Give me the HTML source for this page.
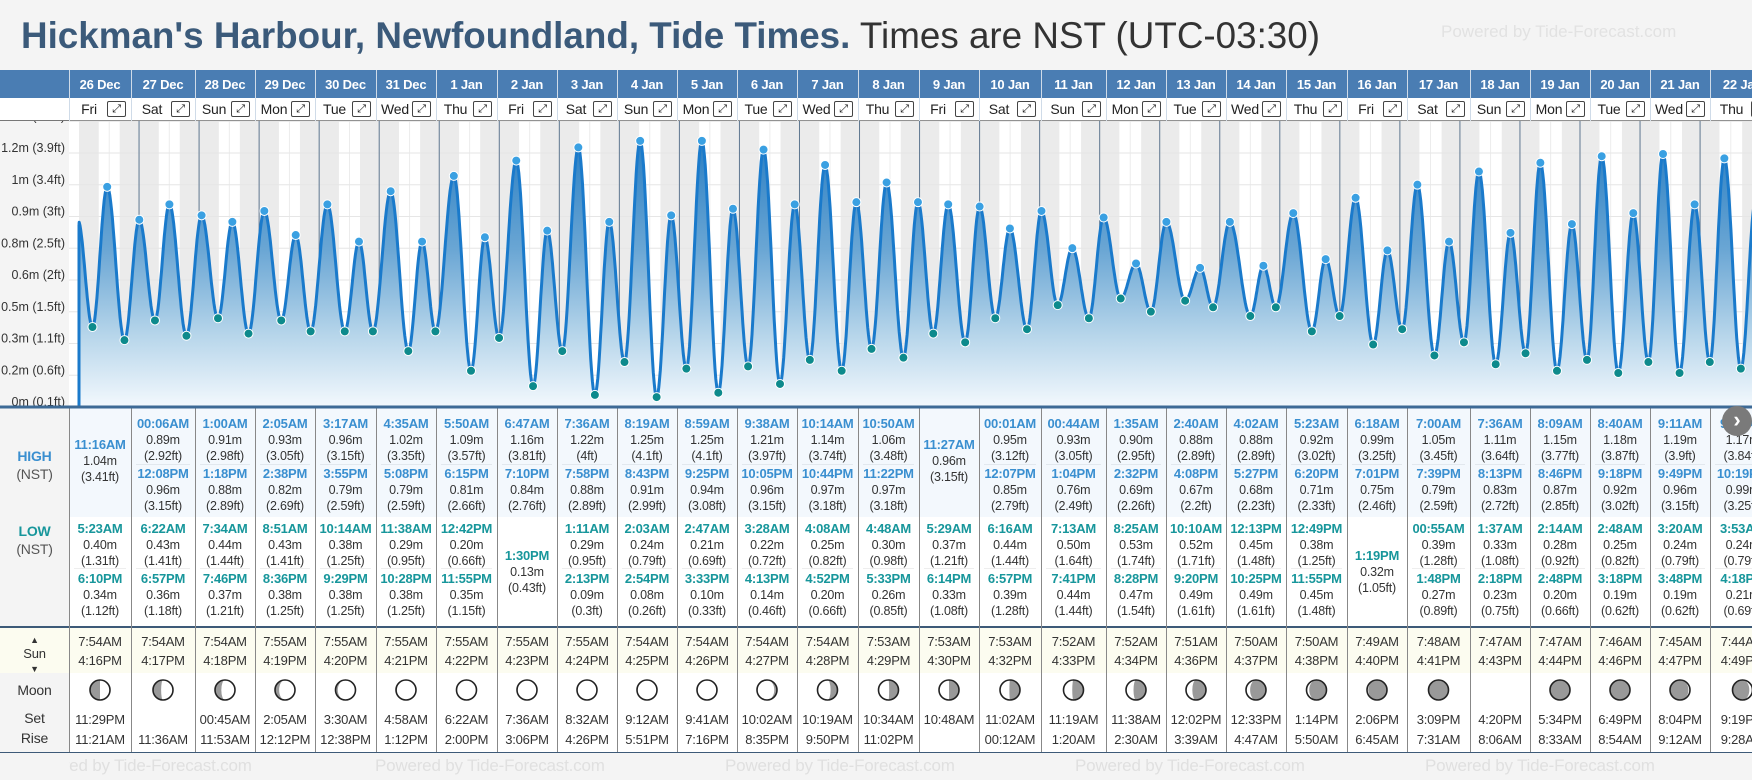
<!DOCTYPE html>
<html><head><meta charset="utf-8">
<style>
*{box-sizing:border-box;margin:0;padding:0}
body{width:1752px;height:780px;overflow:hidden;background:#f4f4f4;font-family:"Liberation Sans",sans-serif;position:relative;color:#333}
.abs{position:absolute}
.c{position:absolute;text-align:center;white-space:nowrap;font-size:12.5px;letter-spacing:-0.2px;line-height:16px}
.th{color:#3a8fd0;font-weight:bold;font-size:13px}
.tl{color:#17969b;font-weight:bold;font-size:13px}
</style></head><body>
<div class="abs" style="left:21px;top:14px;font-size:36.8px;line-height:44px;white-space:nowrap"><b style="color:#3b5a7a">Hickman's Harbour, Newfoundland, Tide Times.</b><span style="color:#333"> Times are NST (UTC-03:30)</span></div>
<div class="abs" style="left:1441px;top:22px;font-size:17px;color:#e2e2e2;white-space:nowrap">Powered by Tide-Forecast.com</div>
<div class="abs" style="left:0;top:70px;width:1752px;height:28px;background:#4a7db3"></div>
<div class="abs" style="left:0;top:98px;width:1752px;height:23px;background:#fff;border-bottom:1px solid #777"></div>
<div id="tbl"></div>
<svg class="abs" id="chart" style="left:0;top:0;z-index:1;pointer-events:none" width="1752" height="780"></svg>
<script>
const days=['26 Dec','27 Dec','28 Dec','29 Dec','30 Dec','31 Dec','1 Jan','2 Jan','3 Jan','4 Jan','5 Jan','6 Jan','7 Jan','8 Jan','9 Jan','10 Jan','11 Jan','12 Jan','13 Jan','14 Jan','15 Jan','16 Jan','17 Jan','18 Jan','19 Jan','20 Jan','21 Jan','22 Jan'];
const weekdays=['Fri','Sat','Sun','Mon','Tue','Wed','Thu','Fri','Sat','Sun','Mon','Tue','Wed','Thu','Fri','Sat','Sun','Mon','Tue','Wed','Thu','Fri','Sat','Sun','Mon','Tue','Wed','Thu'];
const highs=[
[['11:16AM',1.04,'3.41']],
[['00:06AM',0.89,'2.92'],['12:08PM',0.96,'3.15']],
[['1:00AM',0.91,'2.98'],['1:18PM',0.88,'2.89']],
[['2:05AM',0.93,'3.05'],['2:38PM',0.82,'2.69']],
[['3:17AM',0.96,'3.15'],['3:55PM',0.79,'2.59']],
[['4:35AM',1.02,'3.35'],['5:08PM',0.79,'2.59']],
[['5:50AM',1.09,'3.57'],['6:15PM',0.81,'2.66']],
[['6:47AM',1.16,'3.81'],['7:10PM',0.84,'2.76']],
[['7:36AM',1.22,'4'],['7:58PM',0.88,'2.89']],
[['8:19AM',1.25,'4.1'],['8:43PM',0.91,'2.99']],
[['8:59AM',1.25,'4.1'],['9:25PM',0.94,'3.08']],
[['9:38AM',1.21,'3.97'],['10:05PM',0.96,'3.15']],
[['10:14AM',1.14,'3.74'],['10:44PM',0.97,'3.18']],
[['10:50AM',1.06,'3.48'],['11:22PM',0.97,'3.18']],
[['11:27AM',0.96,'3.15']],
[['00:01AM',0.95,'3.12'],['12:07PM',0.85,'2.79']],
[['00:44AM',0.93,'3.05'],['1:04PM',0.76,'2.49']],
[['1:35AM',0.90,'2.95'],['2:32PM',0.69,'2.26']],
[['2:40AM',0.88,'2.89'],['4:08PM',0.67,'2.2']],
[['4:02AM',0.88,'2.89'],['5:27PM',0.68,'2.23']],
[['5:23AM',0.92,'3.02'],['6:20PM',0.71,'2.33']],
[['6:18AM',0.99,'3.25'],['7:01PM',0.75,'2.46']],
[['7:00AM',1.05,'3.45'],['7:39PM',0.79,'2.59']],
[['7:36AM',1.11,'3.64'],['8:13PM',0.83,'2.72']],
[['8:09AM',1.15,'3.77'],['8:46PM',0.87,'2.85']],
[['8:40AM',1.18,'3.87'],['9:18PM',0.92,'3.02']],
[['9:11AM',1.19,'3.9'],['9:49PM',0.96,'3.15']],
[['9:42AM',1.17,'3.84'],['10:19PM',0.99,'3.25']]];
const lows=[
[['5:23AM',0.40,'1.31'],['6:10PM',0.34,'1.12']],
[['6:22AM',0.43,'1.41'],['6:57PM',0.36,'1.18']],
[['7:34AM',0.44,'1.44'],['7:46PM',0.37,'1.21']],
[['8:51AM',0.43,'1.41'],['8:36PM',0.38,'1.25']],
[['10:14AM',0.38,'1.25'],['9:29PM',0.38,'1.25']],
[['11:38AM',0.29,'0.95'],['10:28PM',0.38,'1.25']],
[['12:42PM',0.20,'0.66'],['11:55PM',0.35,'1.15']],
[['1:30PM',0.13,'0.43']],
[['1:11AM',0.29,'0.95'],['2:13PM',0.09,'0.3']],
[['2:03AM',0.24,'0.79'],['2:54PM',0.08,'0.26']],
[['2:47AM',0.21,'0.69'],['3:33PM',0.10,'0.33']],
[['3:28AM',0.22,'0.72'],['4:13PM',0.14,'0.46']],
[['4:08AM',0.25,'0.82'],['4:52PM',0.20,'0.66']],
[['4:48AM',0.30,'0.98'],['5:33PM',0.26,'0.85']],
[['5:29AM',0.37,'1.21'],['6:14PM',0.33,'1.08']],
[['6:16AM',0.44,'1.44'],['6:57PM',0.39,'1.28']],
[['7:13AM',0.50,'1.64'],['7:41PM',0.44,'1.44']],
[['8:25AM',0.53,'1.74'],['8:28PM',0.47,'1.54']],
[['10:10AM',0.52,'1.71'],['9:20PM',0.49,'1.61']],
[['12:13PM',0.45,'1.48'],['10:25PM',0.49,'1.61']],
[['12:49PM',0.38,'1.25'],['11:55PM',0.45,'1.48']],
[['1:19PM',0.32,'1.05']],
[['00:55AM',0.39,'1.28'],['1:48PM',0.27,'0.89']],
[['1:37AM',0.33,'1.08'],['2:18PM',0.23,'0.75']],
[['2:14AM',0.28,'0.92'],['2:48PM',0.20,'0.66']],
[['2:48AM',0.25,'0.82'],['3:18PM',0.19,'0.62']],
[['3:20AM',0.24,'0.79'],['3:48PM',0.19,'0.62']],
[['3:53AM',0.24,'0.79'],['4:18PM',0.21,'0.69']]];
const sunrise=['7:54AM','7:54AM','7:54AM','7:55AM','7:55AM','7:55AM','7:55AM','7:55AM','7:55AM','7:54AM','7:54AM','7:54AM','7:54AM','7:53AM','7:53AM','7:53AM','7:52AM','7:52AM','7:51AM','7:50AM','7:50AM','7:49AM','7:48AM','7:47AM','7:47AM','7:46AM','7:45AM','7:44AM'];
const sunset=['4:16PM','4:17PM','4:18PM','4:19PM','4:20PM','4:21PM','4:22PM','4:23PM','4:24PM','4:25PM','4:26PM','4:27PM','4:28PM','4:29PM','4:30PM','4:32PM','4:33PM','4:34PM','4:36PM','4:37PM','4:38PM','4:40PM','4:41PM','4:43PM','4:44PM','4:46PM','4:47PM','4:49PM'];
const moonA=['11:29PM','','00:45AM','2:05AM','3:30AM','4:58AM','6:22AM','7:36AM','8:32AM','9:12AM','9:41AM','10:02AM','10:19AM','10:34AM','10:48AM','11:02AM','11:19AM','11:38AM','12:02PM','12:33PM','1:14PM','2:06PM','3:09PM','4:20PM','5:34PM','6:49PM','8:04PM','9:19PM'];
const moonB=['11:21AM','11:36AM','11:53AM','12:12PM','12:38PM','1:12PM','2:00PM','3:06PM','4:26PM','5:51PM','7:16PM','8:35PM','9:50PM','11:02PM','','00:12AM','1:20AM','2:30AM','3:39AM','4:47AM','5:50AM','6:45AM','7:31AM','8:06AM','8:33AM','8:54AM','9:12AM','9:28AM'];
const moonPhase=[0.25,0.28,0.31,0.35,0.39,0.43,0.46,0.49,0.50,0.53,0.56,0.62,0.70,0.74,0.75,0.76,0.77,0.79,0.81,0.85,0.88,0.92,0.97,null,0.03,0.06,0.09,0.13];
const axisM=['0m','0.2m','0.3m','0.5m','0.6m','0.8m','0.9m','1m','1.2m','1.3m'];
const axisFt=['0.1ft','0.6ft','1.1ft','1.5ft','2ft','2.5ft','3ft','3.4ft','3.9ft','4.4ft'];
</script>
<script>
const NS='http://www.w3.org/2000/svg';
const svg=document.getElementById('chart');
const colB=[69,131,195,255,315,376,436,497,557,617,677,737,797,858,919,979,1041,1106,1166,1226,1286,1347,1407,1470,1530,1590,1650,1710,1775];
const CT=121,CB=406;
function xT(d){return 79+d*60.04;}
function yH(h){return 154+(1.19-h)*219;}
function tm(s){const m=s.match(/(\d+):(\d+)(AM|PM)/);let h=+m[1]%12;if(m[3]=='PM')h+=12;return (h+(+m[2])/60)/24;}
function el(tag,attrs,parent){const e=document.createElementNS(NS,tag);for(const k in attrs)e.setAttribute(k,attrs[k]);(parent||svg).appendChild(e);return e;}
const defs=el('defs',{});
const cl=el('clipPath',{id:'lc'},defs);el('rect',{x:0,y:CT,width:69,height:CB-CT},cl);
let bg=el('rect',{x:69,y:CT,width:1683,height:CB-CT,fill:'#fff'});


for(let d=0;d<days.length;d++){
  const x0=xT(d),x1=xT(d+1),sr=xT(d+tm(sunrise[d])),ss=xT(d+tm(sunset[d]));
  let n1=el('rect',{x:x0,y:CT,width:sr-x0,height:CB-CT,fill:'#ebebeb'});
  
  
  let n2=el('rect',{x:ss,y:CT,width:x1-ss,height:CB-CT,fill:'#ebebeb'});
  
  
  el('line',{x1:(sr+ss)/2,x2:(sr+ss)/2,y1:CT,y2:CB,stroke:'#ececec','stroke-width':1});
}
for(let i=0;i<axisM.length;i++){
  const y=407-i*31.75;
  el('line',{x1:69,x2:1752,y1:y,y2:y,stroke:'#e6e6e6','stroke-width':1});
  let t=el('text',{x:65,y:y-1,'text-anchor':'end','font-size':12.5,fill:'#333','font-family':'Liberation Sans, sans-serif','clip-path':'url(#lc)'});
  t.textContent=axisM[i]+' ('+axisFt[i]+')';
  
  
}
for(let d=1;d<days.length;d++){
  let l=el('line',{x1:xT(d),x2:xT(d),y1:CT,y2:CB,stroke:'#5f7790','stroke-width':1});
  
  
}
let ev=[{t:-1+tm('11:30PM'),h:0.89,k:'H',hide:1}];
for(let d=0;d<days.length;d++){
  highs[d].forEach(e=>ev.push({t:d+tm(e[0]),h:e[1],k:'H'}));
  lows[d].forEach(e=>ev.push({t:d+tm(e[0]),h:e[1],k:'L'}));
}
ev.sort((a,b)=>a.t-b.t);
let pts=[];
for(let i=0;i<ev.length-1;i++){
  const a=ev[i],b=ev[i+1];
  for(let s=0;s<20;s++){
    const f=s/20,t=a.t+(b.t-a.t)*f;
    if(t<0)continue;
    const h=a.h+(b.h-a.h)*(1-Math.cos(Math.PI*f))/2;
    pts.push([xT(t),yH(h)]);
  }
}
const last=ev[ev.length-1];pts.push([xT(last.t),yH(last.h)]);
pts.unshift([xT(0),yH(0.87)]);
const g=el('linearGradient',{id:'fg',x1:0,y1:CT,x2:0,y2:CB,gradientUnits:'userSpaceOnUse'},defs);
el('stop',{offset:0,'stop-color':'#1f78c0'},g);
el('stop',{offset:0.45,'stop-color':'#6aa6d4'},g);
el('stop',{offset:0.75,'stop-color':'#b6d5ea'},g);
el('stop',{offset:1,'stop-color':'#f2f8fd'},g);
const cp=el('clipPath',{id:'cp'},defs);el('rect',{x:69,y:CT,width:1683,height:CB-CT},cp);
let dline=pts.map((p,i)=>(i?'L':'M')+p[0].toFixed(1)+','+p[1].toFixed(1)).join('');
let area=el('path',{d:dline+'L'+pts[pts.length-1][0]+','+CB+'L'+xT(0)+','+CB+'Z',fill:'url(#fg)','clip-path':'url(#cp)'});


let line=el('path',{d:dline,fill:'none',stroke:'#1a7acb','stroke-width':3,'clip-path':'url(#cp)','stroke-linejoin':'round'});


el('line',{x1:xT(0),x2:xT(0),y1:yH(0.87),y2:CB,stroke:'#1a7acb','stroke-width':3});
ev.forEach(e=>{if(e.hide||xT(e.t)>1752)return;
  let c=el('circle',{cx:xT(e.t),cy:yH(e.h),r:4.5,fill:e.k=='H'?'#3aa0e2':'#0d8a8c',stroke:'#fff','stroke-width':1});
  
  
});
el('line',{x1:0,x2:1752,y1:CB+1,y2:CB+1,stroke:'#3d6a96','stroke-width':3});
const T=document.getElementById('tbl');
function div(css,html,name,inter){const d=document.createElement('div');d.className='c';d.style.cssText=css;d.innerHTML=html;T.appendChild(d);return d;}
div('left:0;top:408px;width:1752px;height:109px;background:#f3f8fd','','high-row','false');
div('left:0;top:517px;width:1752px;height:109px;background:#fff','','low-row','false');
div('left:0;top:626px;width:1752px;height:2px;background:#3d5a78','','row-separator','false');
div('left:0;top:628px;width:1752px;height:45px;background:#fcfcf0','','sun-row','false');
div('left:0;top:673px;width:1752px;height:79px;background:#fff','','moon-row','false');
div('left:0;top:752px;width:1752px;height:1px;background:#3d5a78','','table-bottom','false');
div('left:0;top:408px;width:69px;height:218px;background:#f4f4f4','','label-col','false');
div('left:0;top:673px;width:69px;height:79px;background:#f4f4f4','','label-col-moon','false');
div('left:0;top:447px;width:69px;font-size:14px;line-height:18px','<b style="color:#3a8fd0">HIGH</b><br><span style="color:#555">(NST)</span>','high-label','false');
div('left:0;top:522px;width:69px;font-size:14px;line-height:18px','<b style="color:#17969b">LOW</b><br><span style="color:#555">(NST)</span>','low-label','false');
div('left:0;top:632px;width:69px;font-size:13px;line-height:14px','<span style="font-size:9px">▲</span><br>Sun<br><span style="font-size:9px">▼</span>','sun-label','false');
div('left:0;top:682px;width:69px;font-size:14px','Moon','moon-label','false');
div('left:0;top:710px;width:69px;font-size:14px','Set','moon-set-label','false');
div('left:0;top:730px;width:69px;font-size:14px','Rise','moon-rise-label','false');
for(let i=0;i<days.length;i++){
  const L=colB[i],W=colB[i+1]-L;
  div(`left:${L}px;top:70px;width:1px;height:51px;background:#cfdbe8`,'','col-divider','false');
  div(`left:${L}px;top:77px;width:${W}px;color:#fff;font-weight:bold;font-size:13px`,days[i],'date-header','false');
  div(`left:${L}px;top:101px;width:${W-22}px;font-size:14px;color:#222`,weekdays[i],'weekday-label','false');
  div(`left:${L+W-24}px;top:101px;width:19px;height:16px;border:1px solid #444;border-radius:2px;font-size:11px;line-height:14px;color:#111`,'⤢','expand-day-button','true');
  div(`left:${L}px;top:408px;width:1px;height:344px;background:#888`,'','col-divider','false');
  const hs=highs[i],ls=lows[i];
  const hy=hs.length==2?[416,466]:[437];
  hs.forEach((e,j)=>div(`left:${L}px;top:${hy[j]}px;width:${W}px`,`<span class="th">${e[0]}</span><br>${e[1].toFixed(2)}m<br>(${e[2]}ft)`,'high-tide-cell','false'));
  if(hs.length==2)div(`left:${L+5}px;top:464px;width:${W-10}px;height:1px;background:#e2e8ee`,'','cell-divider','false');
  const ly=ls.length==2?[521,571]:[548];
  ls.forEach((e,j)=>div(`left:${L}px;top:${ly[j]}px;width:${W}px`,`<span class="tl">${e[0]}</span><br>${e[1].toFixed(2)}m<br>(${e[2]}ft)`,'low-tide-cell','false'));
  if(ls.length==2)div(`left:${L+5}px;top:568px;width:${W-10}px;height:1px;background:#eee`,'','cell-divider','false');
  div(`left:${L}px;top:632px;width:${W}px;font-size:13px;line-height:19px`,sunrise[i]+'<br>'+sunset[i],'sun-times','false');
  div(`left:${L}px;top:710px;width:${W}px;font-size:13px;line-height:20px`,(moonA[i]||'&nbsp;')+'<br>'+(moonB[i]||'&nbsp;'),'moon-times','false');
  const p=moonPhase[i];
  if(p!==null){
    const cx=L+W/2,cy=690,r=10;
    let mg=el('g',{});
    
    
    el('circle',{cx,cy,r,fill:'#999'},mg);
    const rx=Math.abs(Math.cos(2*Math.PI*p))*r;
    let d;
    if(p<=0.5){d=`M${cx},${cy-r}A${r},${r} 0 0 1 ${cx},${cy+r}A${rx},${r} 0 0 ${p<0.25?0:1} ${cx},${cy-r}Z`;}
    else{d=`M${cx},${cy-r}A${r},${r} 0 0 0 ${cx},${cy+r}A${rx},${r} 0 0 ${p<0.75?0:1} ${cx},${cy-r}Z`;}
    el('path',{d,fill:'#fff'},mg);
    el('circle',{cx,cy,r,fill:'none',stroke:'#222','stroke-width':1.6},mg);
  }
}
const foot=[22,375,725,1075,1425];
foot.forEach(x=>div(`left:${x}px;top:756px;font-size:17px;color:#e0e0e0;line-height:20px`,'Powered by Tide-Forecast.com','powered-by-footer','false'));
div('left:0;top:753px;width:69px;height:27px;background:#f4f4f4','','footer-left','false');
let btn=div('left:1722px;top:406px;width:30px;height:30px;border-radius:15px;background:#7a7a7a;color:#fff;font-size:22px;line-height:28px;font-weight:bold;z-index:2','›','scroll-right-button','true');
</script>
</body></html>
